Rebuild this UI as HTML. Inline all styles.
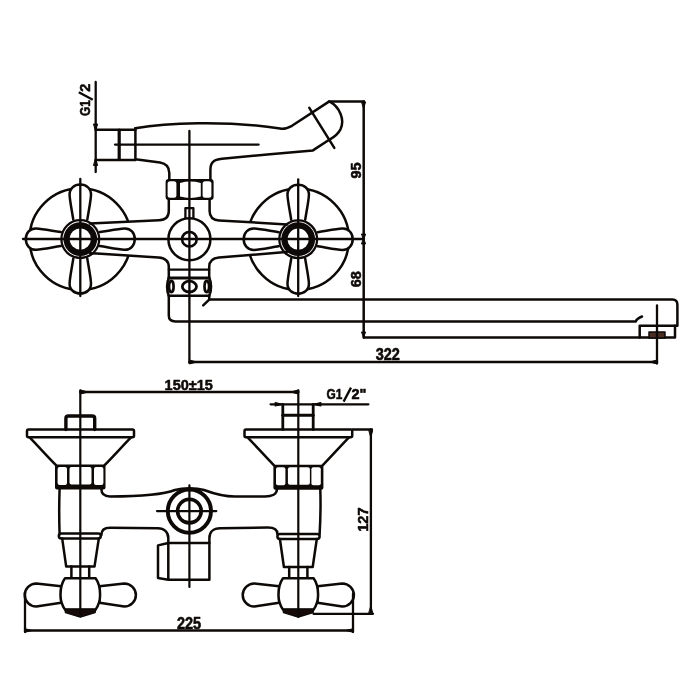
<!DOCTYPE html>
<html><head><meta charset="utf-8"><style>
html,body{margin:0;padding:0;background:#fff;}
svg{display:block;}
text{font-family:"Liberation Sans",sans-serif;font-weight:bold;fill:#0d0907;stroke:#0d0907;stroke-width:0.55px;}
svg{will-change:transform;}
</style></head><body>
<svg width="700" height="700" viewBox="0 0 700 700">
<defs>
  <path id="petal" d="M-7,-19.5 C-8.5,-29 -10.4,-38 -10.7,-44 C-11,-50.5 -6,-54.5 0,-54.5 C6,-54.5 11,-50.5 10.7,-44 C10.4,-38 8.5,-29 7,-19.5"/>
  <g id="htop">
    <circle r="50.8" fill="none"/>
  </g>
  <g id="hcore">
    <use href="#petal" fill="#fff"/>
    <use href="#petal" fill="#fff" transform="rotate(90)"/>
    <use href="#petal" fill="#fff" transform="rotate(180)"/>
    <use href="#petal" fill="#fff" transform="rotate(270)"/>
    <circle r="16.9" fill="#0d0907" stroke="none"/>
    <circle r="18.9" fill="none" stroke-width="2.3"/>
    <circle r="10.6" fill="#fff" stroke="none"/>
  </g>
</defs>
<g fill="none" stroke="#0d0907" stroke-width="2.5" stroke-linecap="round" stroke-linejoin="round">

<!-- ============ TOP VIEW ============ -->
<!-- G1/2 dimension -->
<line x1="95.7" y1="82" x2="95.7" y2="172" stroke-width="2.3"/>
<line x1="95.7" y1="129.7" x2="135.4" y2="129.7"/>
<line x1="95.7" y1="160" x2="135.4" y2="160"/>
<path d="M93.8,124 L97.6,124 L95.7,131 Z M93.8,165.5 L97.6,165.5 L95.7,158.5 Z" fill="#0d0907" stroke-width="1"/>
<line x1="119.2" y1="130" x2="119.2" y2="159.5" stroke-width="3.2"/>
<g transform="translate(89.8,116) rotate(-90)"><text x="0" y="0" font-size="14.5" stroke="none" transform="scale(0.82,1)">G1</text><line x1="16.2" y1="3" x2="23.8" y2="-11" stroke-width="2.3" stroke-linecap="butt"/><text x="24.2" y="0" font-size="14.5">2</text></g>

<!-- handle body -->
<path d="M135.4,128.2 C165,123 225,120 280,128.5 C284,129.5 287,128.5 292,125.8 L329.3,101.4 C340,107 345,120 340.5,129.3 C338,134 334,137 330,139.3 L312.9,150.4 L270,154.2 L222,158.8 C213,159.6 210.4,163 210.4,170 L210.4,180"/>
<path d="M135.4,128.2 L135.4,159.3 L160,162.5 C166,163.5 169.3,167 169.3,173 L169.3,180"/>
<line x1="309.3" y1="107.9" x2="334.3" y2="147.9"/>
<line x1="115" y1="144.6" x2="258.6" y2="144.6" stroke-width="2.3"/>

<!-- discs -->
<use href="#htop" transform="translate(80.3,239.1)"/>
<use href="#htop" transform="translate(298.2,239.2)"/>

<!-- body white fill -->
<path d="M96.9,223.3 L159,220.2 C166,220 168.8,217 168.8,211 L168.8,200 L209.6,200 L209.6,211 C209.6,217 212.5,220 219,220.5 L280,224 L280,252.5 L219,257.5 C213,258 209.6,261 209.6,267 L167.8,267 C167.8,261 165,258 158.6,257.5 L96.9,253.6 Z" fill="#fff" stroke="none"/>
<!-- neck below nut + arms -->
<path d="M168.8,200 L168.8,211 C168.8,217 166,220 159,220.2 L90,223.6"/>
<path d="M209.6,200 L209.6,211 C209.6,217 212.5,220 219,220.5 L287,224.4"/>
<path d="M90,253.2 L96.9,253.6 L158.6,257.5 C165,258 168.8,261 168.8,267 L168.8,278"/>
<path d="M287,252 L280,252.5 L219,257.5 C213,258 209.2,261 209.2,267 L209.2,278"/>

<!-- hex nut -->
<rect x="165.6" y="179" width="48" height="21" rx="3" fill="#0d0907" stroke="none"/>
<rect x="167.6" y="181.2" width="8.8" height="16.6" rx="2.5" fill="#fff" stroke="none"/>
<rect x="202.6" y="181.2" width="8.8" height="16.6" rx="2.5" fill="#fff" stroke="none"/>
<path d="M180,183 Q190.3,180.2 200.8,183 L200.8,196.6 Q190.3,199.4 180,196.6 Z" fill="#fff" stroke="none"/>

<!-- stem rect -->
<rect x="185.4" y="208.2" width="8" height="10.6" stroke-width="2.3"/>
<!-- central knob -->
<circle cx="189.4" cy="239.2" r="21" fill="#fff"/>
<circle cx="189.4" cy="239.2" r="7.3" stroke-width="2.6"/>

<!-- handle cores -->
<use href="#hcore" transform="translate(80.3,239.1)"/>
<use href="#hcore" transform="translate(298.2,239.2)"/>

<line x1="23" y1="239" x2="364" y2="239" stroke-width="2.3"/>
<line x1="189.4" y1="131" x2="189.4" y2="363" stroke-width="2.3"/>
<line x1="80.3" y1="179" x2="80.3" y2="296" stroke-width="2.3"/>
<line x1="298.2" y1="179.3" x2="298.2" y2="296" stroke-width="2.3"/>

<!-- diverter -->
<line x1="168.8" y1="269.6" x2="209.2" y2="269.6" stroke-width="2.3"/>
<line x1="168.8" y1="278" x2="209.2" y2="278" stroke-width="2.8"/>
<path d="M168.8,278 C166.6,282 166.4,291 168.8,295.7 M209.2,278 C211.6,282 211.8,291 209.2,295.7"/>
<line x1="168.8" y1="295.7" x2="209.2" y2="295.7" stroke-width="2.5"/>
<ellipse cx="171.3" cy="286.5" rx="2.3" ry="5.6" stroke-width="2.7"/>
<ellipse cx="189.4" cy="286.6" rx="7.1" ry="5.4" stroke-width="2.8"/>
<ellipse cx="206.8" cy="286.5" rx="2.3" ry="5.6" stroke-width="2.7"/>
<!-- lower box + spout -->
<path d="M168.8,295.7 L168.8,315.5 C168.8,319.5 170.5,321.4 175.5,321.4 L635.8,321.4 C636.5,319.3 638.5,318 642,316.5"/>
<path d="M209.2,295.7 L209.2,299.6 L672.5,299.6 C676,299.6 677.4,302 677.4,305 L677.4,325.8 L639.7,325.8 L639.7,337.6"/>
<line x1="203.2" y1="305.4" x2="209.2" y2="299.6"/>
<path d="M364,337.6 L675,337.6 L675,325.8"/>
<rect x="649" y="332" width="16" height="6" fill="#4a2e22" stroke="#0d0907" stroke-width="1.5"/>
<line x1="657" y1="305.4" x2="657" y2="363.5" stroke-width="2.3"/>

<!-- dimension 95 / 68 -->
<line x1="329.3" y1="101.4" x2="364" y2="101.4"/>
<line x1="363.7" y1="101.4" x2="363.7" y2="337.6"/>
<path d="M361.8,102 L365.6,102 L363.7,108 Z M361.8,234 L365.6,234 L363.7,239.5 Z M361.8,244 L365.6,244 L363.7,238.5 Z M361.8,332 L365.6,332 L363.7,337 Z" fill="#0d0907" stroke-width="1"/>
<text transform="translate(361.2,178.6) rotate(-90)" font-size="14.5">95</text>
<text transform="translate(361.2,287.2) rotate(-90)" font-size="14.5">68</text>
<!-- dimension 322 -->
<line x1="189.4" y1="362" x2="657" y2="362"/>
<path d="M190,360.2 L197,362 L190,363.8 Z M656.5,360.2 L649.5,362 L656.5,363.8 Z" fill="#0d0907" stroke-width="1"/>
<text transform="translate(375.7,359.8) scale(1,1.1)" font-size="14.5">322</text>


<!-- ============ FRONT VIEW ============ -->
<!-- 150 dim -->
<line x1="80.3" y1="392" x2="298.3" y2="392"/>
<path d="M80.4,390 L88,392 L80.4,394 Z M298.3,390 L290.7,392 L298.3,394 Z" fill="#0d0907" stroke-width="1.2"/>
<text x="164.6" y="390" font-size="14.5">150±15</text>
<!-- G1/2" dim -->
<line x1="270.6" y1="404.3" x2="368.4" y2="404.3" stroke-width="2.3"/>
<path d="M275.2,402.6 L282.4,404.3 L275.2,406 Z M320.8,402.6 L313.6,404.3 L320.8,406 Z" fill="#0d0907" stroke-width="1.2"/>
<line x1="282.8" y1="404.3" x2="282.8" y2="429.5" stroke-width="2.8"/>
<line x1="313.2" y1="404.3" x2="313.2" y2="429.5" stroke-width="2.8"/>
<line x1="282.8" y1="415.2" x2="313.2" y2="415.2" stroke-width="3"/>
<text x="0" y="0" font-size="14.5" stroke="none" transform="translate(326.4,399) scale(0.82,1)">G1</text><line x1="343.6" y1="401.6" x2="351" y2="387.6" stroke-width="2.3" stroke-linecap="butt"/><text x="351.4" y="399" font-size="14.5">2"</text>

<!-- left cap -->
<path d="M65.9,429.5 L65.9,418.4 Q65.9,416 68.4,416 L92.2,416 Q94.7,416 94.7,418.4 L94.7,429.5" stroke-width="3.4"/>

<!-- discs -->
<rect x="27" y="429.5" width="107" height="7.8" rx="1.5"/>
<rect x="244.5" y="429.5" width="107.7" height="7.8" rx="1.5"/>
<path d="M29.6,437.4 C38,446 46,455 56,465.2 M131,437.4 C122.6,446 114.6,455 104.6,465.2"/>
<path d="M247.6,437.4 C256,446 264,455 274,465.4 M349,437.4 C340.6,446 332.6,455 322.6,465.4"/>
<!-- ext lines right -->
<line x1="352.6" y1="429.5" x2="372" y2="429.5" stroke-width="2.3"/>
<line x1="370.9" y1="429.5" x2="370.9" y2="613.8" stroke-width="2.3"/>
<path d="M369.1,430.5 L372.7,430.5 L370.9,437 Z M369.1,612.8 L372.7,612.8 L370.9,606.3 Z" fill="#0d0907" stroke-width="1"/>
<line x1="313.5" y1="613.8" x2="373" y2="613.8" stroke-width="2.3"/>
<text transform="translate(368,531.7) rotate(-90)" font-size="14.5">127</text>

<!-- nuts -->
<rect x="55" y="464.5" width="50.5" height="25" rx="2" fill="#0d0907" stroke="none"/>
<rect x="57.6" y="467" width="9.4" height="18" rx="2" fill="#fff" stroke="none"/>
<rect x="69.5" y="467" width="22" height="17.5" rx="2" fill="#fff" stroke="none"/>
<rect x="94" y="467" width="9.4" height="18" rx="2" fill="#fff" stroke="none"/>
<rect x="273.4" y="464.7" width="50" height="25" rx="2" fill="#0d0907" stroke="none"/>
<rect x="276" y="467.2" width="9.4" height="18" rx="2" fill="#fff" stroke="none"/>
<rect x="287.9" y="467.2" width="22" height="17.5" rx="2" fill="#fff" stroke="none"/>
<rect x="311.4" y="467.2" width="9.4" height="18" rx="2" fill="#fff" stroke="none"/>
<!-- body arms -->
<path d="M101.4,489 C101.4,494 104,496.4 110,496.4 C140,496.4 165,494 175,490 C183,487.5 196,487.5 204,490 C212,493 222,496.5 235,496.5 L265,496.5 C272,496.5 277,494 277,489"/>
<path d="M101.4,535 C101.4,530 104,527.8 110,527.8 L158,528.3 C164,528.3 168.3,532 168.3,538 L168.3,543"/>
<path d="M277.4,534 C277.4,530 274,527.6 268,527.6 L220,528.3 C213.5,528.3 209.4,532 209.4,538 L209.4,543"/>
<!-- left stem -->
<path d="M59.6,489 Q58.8,511 59.6,534.5"/>
<!-- right stem -->
<path d="M320.3,489 Q321,511 319.6,534.5"/>
<!-- rings -->
<rect x="58.8" y="533.6" width="42" height="4.9" rx="2.4"/>
<rect x="277.4" y="534" width="42.2" height="4.9" rx="2.4"/>
<!-- tapers -->
<path d="M62.2,538.6 L66.2,566.6 L94.5,566.6 L98.8,538.6"/>
<path d="M279.9,539 L283.9,567 L312.7,567 L316.8,539"/>
<!-- necks -->
<path d="M71.4,566.6 L71.4,578 M89.2,566.6 L89.2,578"/>
<path d="M289.2,567 L289.2,578.2 M307.4,567 L307.4,578.2"/>

<!-- levers -->
<path d="M61.1,586.2 L36.3,583.4 A11.6,11.6 0 0 0 36.3,606.6 L61.1,602.8 Z" fill="#fff"/>
<path d="M99.5,586.2 L124.3,583.4 A11.6,11.6 0 0 1 124.3,606.6 L99.5,602.8 Z" fill="#fff"/>
<path d="M65.0,578.2 L95.6,578.2 C99.3,583.2 100.1,589 100.1,595 C100.1,601 99.1,604.6 95.6,609.6 L65.0,609.6 C61.5,604.6 60.5,601 60.5,595 C60.5,589 61.3,583.2 65.0,578.2 Z" fill="#fff"/>
<path d="M65.0,609.4 L95.6,609.4 L95.1,612.6 L80.3,617.2 L65.5,612.6 Z" fill="#160b08" stroke-width="1.4"/>
<path d="M279.1,586.2 L254.3,583.4 A11.6,11.6 0 0 0 254.3,606.6 L279.1,602.8 Z" fill="#fff"/>
<path d="M317.5,586.2 L342.3,583.4 A11.6,11.6 0 0 1 342.3,606.6 L317.5,602.8 Z" fill="#fff"/>
<path d="M283.0,578.2 L313.6,578.2 C317.3,583.2 318.1,589 318.1,595 C318.1,601 317.1,604.6 313.6,609.6 L283.0,609.6 C279.5,604.6 278.5,601 278.5,595 C278.5,589 279.3,583.2 283.0,578.2 Z" fill="#fff"/>
<path d="M283.0,609.4 L313.6,609.4 L313.1,612.6 L298.3,617.2 L283.5,612.6 Z" fill="#160b08" stroke-width="1.4"/>
<!-- center lines front -->
<line x1="80.3" y1="390.3" x2="80.3" y2="616" stroke-width="2.2"/>
<line x1="298.3" y1="390.3" x2="298.3" y2="617" stroke-width="2.2"/>

<!-- central knob -->
<circle cx="189.4" cy="511.1" r="21.6" fill="#fff" stroke-width="3.9"/>
<circle cx="189.4" cy="511.1" r="11.8" stroke-width="3.6"/>
<line x1="157" y1="511.1" x2="216.3" y2="511.1" stroke-width="2.2"/>
<!-- diverter block -->
<path d="M168.3,543 L209.4,543 L209.4,579.7 L168.3,579.7 Z M168.3,543 L158,545.4 L158,578 L168.3,579.7"/>
<line x1="189.4" y1="485.4" x2="189.4" y2="587" stroke-width="2.2"/>

<!-- 225 dim -->
<line x1="25" y1="630.5" x2="353" y2="630.5" stroke-width="2.3"/>
<line x1="25" y1="593" x2="25" y2="632" stroke-width="2.3"/>
<line x1="353" y1="594" x2="353" y2="632" stroke-width="2.3"/>
<path d="M25,628.7 L32,630.5 L25,632.3 Z M353,628.7 L346,630.5 L353,632.3 Z" fill="#0d0907" stroke-width="1"/>
<text transform="translate(177,629.2) scale(1,1.1)" font-size="14.5">225</text>
</g>
</svg>
</body></html>
